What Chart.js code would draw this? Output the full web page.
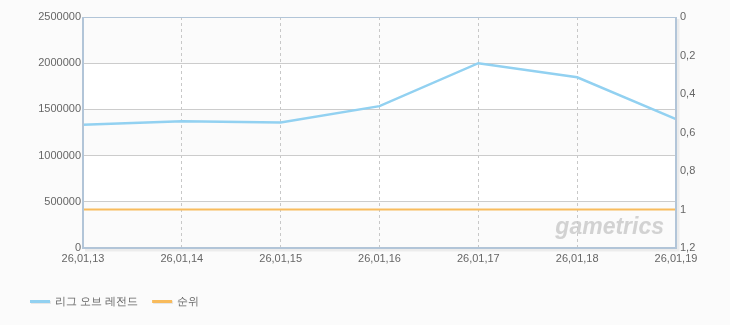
<!DOCTYPE html>
<html>
<head>
<meta charset="utf-8">
<script src="https://cdn.jsdelivr.net/npm/chart.js@4"></script>
<style>
html,body{margin:0;padding:0;background:#fbfbfb;}
#wrap{width:730px;height:325px;position:relative;}
</style>
</head>
<body>
<div id="wrap"><canvas id="c" width="730" height="325"></canvas></div>
<script>
const categories = ['26,01,13','26,01,14','26,01,15','26,01,16','26,01,17','26,01,18','26,01,19'];
const lolValues = [1333000, 1372000, 1358000, 1535000, 2000000, 1848000, 1395000];
const rankValues = [1, 1, 1, 1, 1, 1, 1];
const seriesNames = ['리그 오브 레전드', '순위'];
const rightTickLabels = ['0','0,2','0,4','0,6','0,8','1','1,2'];
const watermarkText = 'gametrics';

const FONT = '"Liberation Sans", Arial, sans-serif';
const BLUE = '#92d1f1';
const ORANGE = '#f8bb5c';

const bgPlugin = {
  id: 'bands',
  beforeDraw(chart) {
    const {ctx, chartArea: a, scales} = chart;
    ctx.save();
    ctx.fillStyle = '#fbfbfb';
    ctx.fillRect(0, 0, chart.width, chart.height);
    const y = scales.y;
    const ticks = y.ticks.map(t => t.value).sort((p, q) => q - p);
    for (let i = 0; i < ticks.length - 1; i++) {
      if (i % 2 === 1) {
        const t = y.getPixelForValue(ticks[i]);
        const b = y.getPixelForValue(ticks[i + 1]);
        ctx.fillStyle = '#ffffff';
        ctx.fillRect(a.left, t, a.right - a.left, b - t);
      }
    }
    // watermark
    ctx.font = 'italic bold 23px ' + FONT;
    ctx.fillStyle = 'rgba(170,170,170,0.5)';
    ctx.textAlign = 'right';
    ctx.textBaseline = 'middle';
    ctx.fillText(watermarkText, a.right - 12, a.bottom - 20);
    ctx.restore();
  },
  afterDatasetsDraw(chart) {
    const {ctx, chartArea: a} = chart;
    ctx.save();
    ctx.strokeStyle = 'rgba(0,0,0,0.06)';
    ctx.lineWidth = 3;
    ctx.beginPath();
    ctx.moveTo(a.right + 2, a.top + 2);
    ctx.lineTo(a.right + 2, a.bottom + 2);
    ctx.lineTo(a.left + 2, a.bottom + 2);
    ctx.stroke();
    ctx.strokeStyle = '#b2c5d8';
    ctx.lineWidth = 1;
    ctx.beginPath();
    ctx.moveTo(a.left, a.top + 0.5);
    ctx.lineTo(a.right, a.top + 0.5);
    ctx.stroke();
    ctx.lineWidth = 2;
    ctx.beginPath();
    ctx.moveTo(a.left, a.top);
    ctx.lineTo(a.left, a.bottom);
    ctx.lineTo(a.right, a.bottom);
    ctx.lineTo(a.right, a.top);
    ctx.stroke();
    ctx.restore();
  },
  afterDraw(chart) {
    const {ctx} = chart;
    ctx.save();
    ctx.font = '11px ' + FONT;
    ctx.textBaseline = 'middle';
    ctx.textAlign = 'left';
    let x = 30;
    const yy = 302;
    chart.data.datasets.forEach(ds => {
      ctx.fillStyle = 'rgba(0,0,0,0.08)';
      ctx.fillRect(x + 1, yy - 1, 20, 3);
      ctx.fillStyle = ds.borderColor;
      ctx.fillRect(x, yy - 2, 20, 3);
      ctx.fillStyle = '#666';
      ctx.fillText(ds.label, x + 25, yy);
      x += 25 + ctx.measureText(ds.label).width + 14;
    });
    ctx.restore();
  }
};

function noPad(s) { s.paddingTop = 0; s.paddingBottom = 0; s.paddingLeft = 0; s.paddingRight = 0; }

new Chart(document.getElementById('c'), {
  type: 'line',
  data: {
    labels: categories,
    datasets: [
      { label: seriesNames[0], data: lolValues, yAxisID: 'y', borderColor: BLUE, borderWidth: 2.5, pointRadius: 0, tension: 0, fill: false },
      { label: seriesNames[1], data: rankValues, yAxisID: 'y2', borderColor: ORANGE, borderWidth: 2, pointRadius: 0, tension: 0, fill: false }
    ]
  },
  plugins: [bgPlugin],
  options: {
    responsive: false,
    animation: false,
    devicePixelRatio: 1,
    layout: { padding: { top: 17, bottom: 57, left: 0, right: 0 } },
    plugins: { legend: { display: false }, tooltip: { enabled: false } },
    scales: {
      x: {
        offset: false,
        grid: { color: '#c8c8c8', lineWidth: 1, drawTicks: false, tickBorderDash: [3, 3] },
        border: { display: false, dash: [3, 3] },
        ticks: { color: '#666', font: { family: FONT, size: 11 }, padding: 4, maxRotation: 0, autoSkip: false },
        afterFit(s) { s.height = 20; noPad(s); }
      },
      y: {
        position: 'left',
        min: 0, max: 2500000,
        grid: { color: '#cccccc', lineWidth: 1, drawTicks: false },
        border: { display: false },
        ticks: { stepSize: 500000, color: '#666', font: { family: FONT, size: 11 }, padding: 2, callback: v => String(v) },
        afterFit(s) { s.width = 83; noPad(s); }
      },
      y2: {
        position: 'right',
        reverse: true,
        min: 0, max: 1.2,
        grid: { display: false, drawTicks: false },
        border: { display: false },
        ticks: { stepSize: 0.2, color: '#666', font: { family: FONT, size: 11 }, padding: 4,
          callback: v => rightTickLabels[Math.round(v / 0.2)] },
        afterFit(s) { s.width = 54; noPad(s); }
      }
    }
  }
});
</script>
</body>
</html>
